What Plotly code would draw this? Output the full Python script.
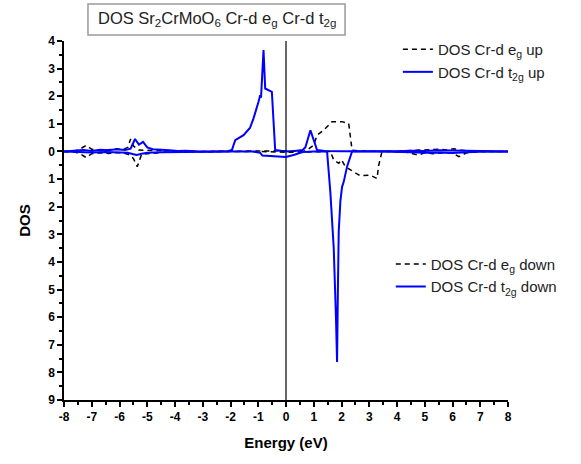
import plotly.graph_objects as go

# ---------------- data ----------------
t2g_up_x = [-8, -7.6, -7.3, -7.0, -6.7, -6.4, -6.1, -5.8, -5.6, -5.44, -5.3, -5.15, -5.0, -4.8, -4.5,
            -4.2, -3.9, -3.6, -3.3, -3.0, -2.5, -2.1, -1.95, -1.83, -1.53, -1.3, -1.17, -0.99, -0.93,
            -0.9, -0.81, -0.75, -0.63, -0.51, -0.39, -0.2, 0.0, 0.3, 0.6, 0.7, 0.88, 1.12, 1.4, 2.0,
            3.0, 4.0, 4.5, 5.0, 5.5, 6.0, 6.5, 7.0, 7.5, 8.0]
t2g_up_y = [0, 0.03, 0.05, 0.02, 0.06, 0.04, 0.08, 0.05, 0.1, 0.45, 0.25, 0.35, 0.15, 0.08, 0.05,
            0.04, 0.02, 0.03, 0.01, 0, 0, 0.01, 0.05, 0.41, 0.59, 0.85, 1.2, 1.8, 2.04,
            1.95, 3.67, 2.28, 2.22, 2.16, 0.05, 0.02, 0.0, 0.02, 0.05, 0.15, 0.77, 0.05, 0.02, 0.01,
            0, 0.01, 0.03, 0.02, 0.04, 0.03, 0.02, 0.01, 0, 0]

t2g_dn_x = [-8, -7.5, -7.0, -6.5, -6.0, -5.7, -5.5, -5.38, -5.2, -5.0, -4.5, -4.0, -3.0, -2.0, -1.2,
            -0.93, -0.85, -0.5, -0.2, 0.0, 0.3, 0.6, 1.0, 1.3, 1.48, 1.6, 1.72, 1.8, 1.84, 1.87, 1.9,
            1.96, 2.02, 2.08, 2.2, 2.38, 2.8, 3.5, 4.5, 5.0, 5.5, 6.0, 6.5, 7.0, 8.0]
t2g_dn_y = [0, -0.02, -0.04, -0.02, -0.05, -0.05, -0.1, -0.13, -0.08, -0.05, -0.03, -0.02, -0.01, 0, 0,
            -0.05, -0.15, -0.16, -0.18, -0.2, -0.12, -0.02, 0, 0, 0, -1.5, -3.5, -6.0, -7.62, -5.0, -2.9,
            -1.8, -1.28, -1.1, -0.55, 0, 0, 0, -0.03, -0.05, -0.04, -0.06, -0.03, -0.01, 0]

eg_up_x = [-8, -7.6, -7.4, -7.2, -7.0, -6.7, -6.4, -6.1, -5.9, -5.7, -5.6, -5.5, -5.3, -5.0, -4.5,
           -4.0, -3.5, -3.0, -2.0, -1.0, -0.5, 0.0, 0.3, 0.64, 0.8, 1.0, 1.12, 1.36, 1.66, 2.02, 2.26,
           2.38, 2.6, 3.0, 3.5, 4.0, 4.5, 4.8, 5.2, 5.5, 5.8, 6.05, 6.3, 6.6, 7.0, 7.5, 8.0]
eg_up_y = [0, 0.02, 0.1, 0.22, 0.08, 0.03, 0.06, 0.1, 0.05, 0.15, 0.45, 0.2, 0.05, 0.04, 0.02,
           0.03, 0.01, 0, 0, 0, 0.02, 0.03, 0.02, 0.0, 0.08, 0.23, 0.59, 0.77, 1.08, 1.08, 1.01,
           0.05, 0.02, 0, 0, 0.01, 0.04, 0.05, 0.06, 0.08, 0.05, 0.1, 0.04, 0.02, 0.01, 0, 0]

eg_dn_x = [-8, -7.6, -7.4, -7.2, -7.0, -6.7, -6.4, -6.1, -5.9, -5.7, -5.5, -5.36, -5.2, -5.0, -4.7,
           -4.4, -4.0, -3.5, -3.0, -2.0, -1.0, -0.5, 0.0, 0.5, 1.0, 1.4, 1.6, 1.72, 1.9, 2.0, 2.14,
           2.44, 2.68, 3.04, 3.28, 3.34, 3.46, 3.8, 4.3, 4.77, 5.0, 5.3, 5.7, 6.0, 6.23, 6.5, 7.0,
           7.5, 8.0]
eg_dn_y = [0, -0.02, -0.1, -0.22, -0.08, -0.05, -0.07, -0.04, -0.05, -0.1, -0.25, -0.55, -0.1, -0.08,
           -0.06, -0.03, -0.02, -0.01, 0, 0, 0, -0.02, -0.03, -0.02, 0, 0, 0, -0.31, -0.43, -0.3, -0.55,
           -0.74, -0.88, -0.86, -0.98, -0.5, 0, 0, -0.02, -0.13, -0.05, -0.08, -0.04, -0.06, -0.19,
           -0.05, -0.01, 0, 0]

x_ticks = list(range(-8, 9))
x_ticktext = [str(v) for v in x_ticks]
y_ticks = list(range(-9, 5))
y_ticktext = [str(abs(v)) for v in y_ticks]

title_text = "DOS Sr<sub>2</sub>CrMoO<sub>6</sub> Cr-d e<sub>g</sub> Cr-d t<sub>2g</sub>"

# ---------------- figure ----------------
fig = go.Figure()
dash_style = dict(color="black", width=1.5, dash="5px,4px")
blue_style = dict(color="#0000ff", width=2)

fig.add_trace(go.Scatter(x=eg_up_x, y=eg_up_y, mode="lines", line=dash_style,
                         name="DOS Cr-d e<sub>g</sub> up", legend="legend"))
fig.add_trace(go.Scatter(x=t2g_up_x, y=t2g_up_y, mode="lines", line=blue_style,
                         name="DOS Cr-d t<sub>2g</sub> up", legend="legend"))
fig.add_trace(go.Scatter(x=eg_dn_x, y=eg_dn_y, mode="lines", line=dash_style,
                         name="DOS Cr-d e<sub>g</sub> down", legend="legend2"))
fig.add_trace(go.Scatter(x=t2g_dn_x, y=t2g_dn_y, mode="lines", line=blue_style,
                         name="DOS Cr-d t<sub>2g</sub> down", legend="legend2"))

FAM = "Arial, Liberation Sans, sans-serif"
tick_font = dict(family=FAM, size=12, color="black", weight="bold")
title_font = dict(family=FAM, size=15, color="black", weight="bold")
leg_font = dict(family=FAM, size=15, color="#222222")

fig.update_layout(
    width=582, height=464,
    margin=dict(l=64, r=74, t=41, b=64),
    paper_bgcolor="white", plot_bgcolor="white",
    xaxis=dict(range=[-8, 8], tickvals=x_ticks, ticktext=x_ticktext, ticks="outside", ticklen=5,
               tickwidth=1.5, tickcolor="black", showline=True, linecolor="black", linewidth=1.5,
               showgrid=False, zeroline=False, tickfont=tick_font,
               minor=dict(ticks="outside", ticklen=3, tickwidth=1.5, tickcolor="black", dtick=0.5,
                          showgrid=False),
               title=dict(text="Energy (eV)", font=title_font, standoff=14)),
    yaxis=dict(range=[-9, 4], tickvals=y_ticks, ticktext=y_ticktext, ticks="outside", ticklen=5,
               tickwidth=1.5, tickcolor="black", showline=True, linecolor="black", linewidth=1.5,
               showgrid=False, zeroline=False, tickfont=tick_font,
               minor=dict(ticks="outside", ticklen=3, tickwidth=1.5, tickcolor="black", dtick=0.5,
                          showgrid=False),
               title=dict(text="DOS", font=title_font, standoff=14)),
    legend=dict(x=0.752, y=1.022, xanchor="left", yanchor="top", font=leg_font,
                bgcolor="rgba(0,0,0,0)", borderwidth=0),
    legend2=dict(x=0.736, y=0.424, xanchor="left", yanchor="top", font=leg_font,
                 bgcolor="rgba(0,0,0,0)", borderwidth=0),
    showlegend=True,
)

# vertical line at Fermi level
fig.add_shape(type="line", xref="x", yref="y", x0=0, x1=0, y0=-9, y1=4,
              line=dict(color="black", width=1.2), layer="below")

# title box
fig.add_shape(type="rect", xref="paper", yref="paper", x0=0.054, x1=0.633, y0=1.0167, y1=1.103,
              line=dict(color="#999999", width=1.5), fillcolor="white")
fig.add_annotation(text=title_text, xref="paper", yref="paper", x=0.3435, y=1.06,
                   xanchor="center", yanchor="middle", showarrow=False,
                   font=dict(family=FAM, size=16.5, color="#222222"))

# faint right border of the page
fig.add_shape(type="line", xref="paper", yref="paper", x0=1.1655, x1=1.1655, y0=-0.2, y1=1.2,
              line=dict(color="#f2b8b8", width=1))

fig.write_html("out.html")
